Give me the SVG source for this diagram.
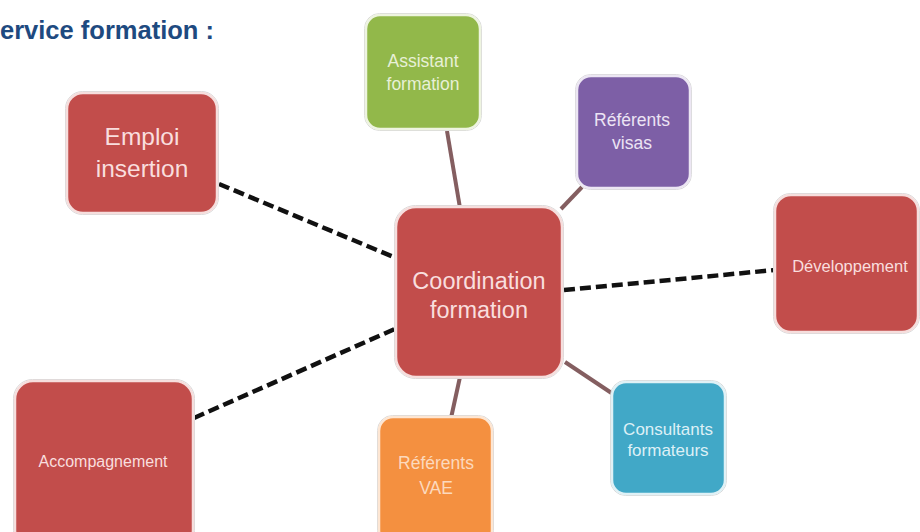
<svg xmlns="http://www.w3.org/2000/svg" width="920" height="532" viewBox="0 0 920 532">
<style>
.box{stroke-width:2.5}
.edge{fill:none;stroke:#d9d9d9;stroke-width:1}
.red{fill:#c24d4b;stroke:#f6dedd}
.green{fill:#92b84a;stroke:#eef4e0}
.purple{fill:#7d5fa6;stroke:#ece6f3}
.orange{fill:#f49040;stroke:#fde6d3}
.blue{fill:#41a8c7;stroke:#dff1f6}
.t{font-family:"Liberation Sans",Arial,sans-serif;text-anchor:middle}
.tr{fill:#f9dede}
.tg{fill:#e8f0d6}
.tp{fill:#ece4f4}
.to{fill:#fcd9bd}
.tb{fill:#ddf0f6}
.solid{stroke:#845e60;stroke-width:4;fill:none}
.dash{stroke:#111;stroke-width:4.5;fill:none;stroke-dasharray:11 5}
.title{font-family:"Liberation Sans",Arial,sans-serif;font-weight:bold;font-size:25.5px;fill:#1e4a80}
</style>
<rect width="920" height="532" fill="#ffffff"/>
<text class="title" x="0" y="39">ervice formation :</text>
<g id="connectors">
<line class="solid" x1="447" y1="131" x2="460" y2="208"/>
<line class="solid" x1="582" y1="187" x2="561" y2="209"/>
<line class="solid" x1="565" y1="362" x2="613" y2="394"/>
<line class="solid" x1="460" y1="377" x2="451" y2="418"/>
<line class="dash" x1="219" y1="184" x2="396" y2="258"/>
<line class="dash" x1="194" y1="418" x2="397" y2="328"/>
<line class="dash" x1="564" y1="290" x2="775" y2="270"/>
</g>
<g id="emploi">
<rect class="edge" x="65.5" y="91.5" width="153" height="123" rx="17"/>
<rect class="box red" x="67" y="93" width="150" height="120" rx="16"/>
<text class="t tr" x="142" y="145" font-size="24.5">Emploi</text>
<text class="t tr" x="142" y="177" font-size="24.5">insertion</text>
</g>
<g id="assistant">
<rect class="edge" x="364.5" y="13.5" width="117" height="117" rx="15"/>
<rect class="box green" x="366" y="15" width="114" height="114" rx="14"/>
<text class="t tg" x="423" y="67" font-size="17.5">Assistant</text>
<text class="t tg" x="423" y="90" font-size="17.5">formation</text>
</g>
<g id="visas">
<rect class="edge" x="575.5" y="74.5" width="116" height="115" rx="15"/>
<rect class="box purple" x="577" y="76" width="113" height="112" rx="14"/>
<text class="t tp" x="632" y="126" font-size="17.5">Référents</text>
<text class="t tp" x="632" y="149" font-size="17.5">visas</text>
</g>
<g id="coordination">
<rect class="edge" x="394.5" y="205.5" width="169" height="173" rx="21"/>
<rect class="box red" x="396" y="207" width="166" height="170" rx="20"/>
<text class="t tr" x="479" y="289" font-size="23.5">Coordination</text>
<text class="t tr" x="479" y="318" font-size="23.5">formation</text>
</g>
<g id="developpement">
<rect class="edge" x="773.5" y="193.5" width="146" height="140" rx="17"/>
<rect class="box red" x="775" y="195" width="143" height="137" rx="16"/>
<text class="t tr" x="850" y="272" font-size="16.5">Développement</text>
</g>
<g id="accompagnement">
<rect class="edge" x="13.5" y="379.5" width="181" height="170" rx="19"/>
<rect class="box red" x="15" y="381" width="178" height="167" rx="18"/>
<text class="t tr" x="103" y="467" font-size="16">Accompagnement</text>
</g>
<g id="vae">
<rect class="edge" x="377.5" y="415.5" width="116" height="130" rx="15"/>
<rect class="box orange" x="379" y="417" width="113" height="127" rx="14"/>
<text class="t to" x="436" y="469" font-size="17.5">Référents</text>
<text class="t to" x="436" y="494" font-size="17.5">VAE</text>
</g>
<g id="consultants">
<rect class="edge" x="610.5" y="380.5" width="116" height="115" rx="15"/>
<rect class="box blue" x="612" y="382" width="113" height="112" rx="14"/>
<text class="t tb" x="668" y="435" font-size="17">Consultants</text>
<text class="t tb" x="668" y="456" font-size="17">formateurs</text>
</g>
</svg>
